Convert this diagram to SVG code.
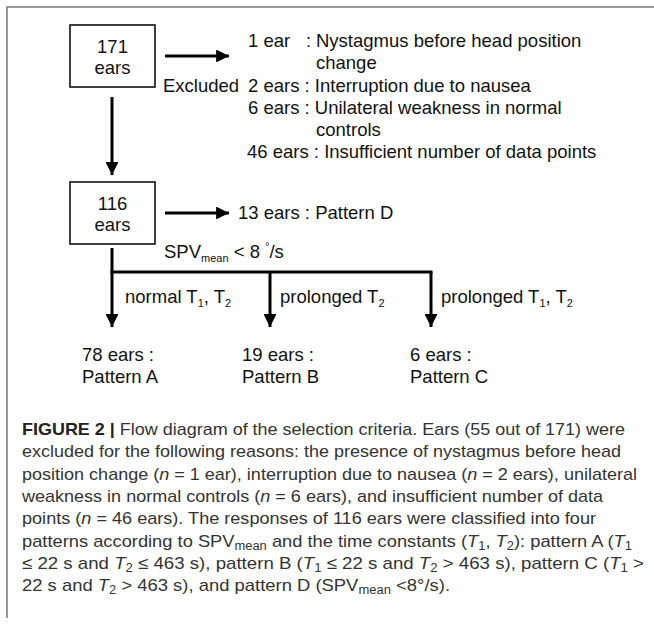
<svg xmlns="http://www.w3.org/2000/svg" width="654" height="625" viewBox="0 0 654 625">
<defs>
<marker id="ah" viewBox="0 0 10 10" refX="10" refY="5" markerWidth="4.3" markerHeight="4.3" markerUnits="strokeWidth" orient="auto">
<path d="M0,0 L10,5 L0,10 Z" fill="#000"/>
</marker>
</defs>
<style>
.t{font-family:"Liberation Sans",Arial,sans-serif;font-size:18.5px;fill:#111}
.c{font-family:"Liberation Sans",Arial,sans-serif;font-size:17px;fill:#333}
.box{fill:#fff;stroke:#111;stroke-width:1.6}
.ln{stroke:#000;stroke-width:3;fill:none}
.sub{font-size:11px}
.cs{font-size:12px}
.frame{stroke:#777;stroke-width:1.5;fill:none}
</style>
<rect width="654" height="625" fill="#fff"/>
<path class="frame" d="M7,618 V7 H654"/>

<g id="connectors">
<line class="ln" x1="165" y1="56" x2="229" y2="56" marker-end="url(#ah)"/>
<line class="ln" x1="112" y1="97" x2="112" y2="175" marker-end="url(#ah)"/>
<line class="ln" x1="165" y1="213" x2="229" y2="213" marker-end="url(#ah)"/>
<line class="ln" x1="112" y1="248" x2="112" y2="327" marker-end="url(#ah)"/>
<line class="ln" x1="110.5" y1="272" x2="432.5" y2="272"/>
<line class="ln" x1="270" y1="272" x2="270" y2="327" marker-end="url(#ah)"/>
<line class="ln" x1="431" y1="272" x2="431" y2="327" marker-end="url(#ah)"/>
</g>

<g id="node-171">
<rect class="box" x="70" y="25" width="85" height="62"/>
<text class="t" x="112.5" y="53" text-anchor="middle">171</text>
<text class="t" x="112.5" y="74" text-anchor="middle">ears</text>
</g>

<g id="excluded">
<text class="t" x="163" y="92">Excluded</text>
<text class="t" x="248" y="47">1 ear</text>
<text class="t" x="306" y="47">:</text>
<text class="t" x="316" y="47">Nystagmus before head position</text>
<text class="t" x="316" y="69">change</text>
<text class="t" x="248" y="92">2 ears : Interruption due to nausea</text>
<text class="t" x="248" y="114">6 ears : Unilateral weakness in normal</text>
<text class="t" x="316" y="136">controls</text>
<text class="t" x="247" y="158">46 ears : Insufficient number of data points</text>
</g>

<g id="node-116">
<rect class="box" x="70" y="182" width="85" height="62"/>
<text class="t" x="112.5" y="210" text-anchor="middle">116</text>
<text class="t" x="112.5" y="231" text-anchor="middle">ears</text>
</g>

<g id="pattern-d">
<text class="t" x="238" y="219">13 ears : Pattern D</text>
<text class="t" x="164" y="258">SPV<tspan class="sub" dy="4">mean</tspan><tspan dy="-4"> &lt; 8 </tspan><tspan class="sub" dy="-8">°</tspan><tspan dy="8">/s</tspan></text>
</g>

<g id="branch-labels">
<text class="t" x="125" y="303" font-size="18">normal T<tspan class="sub" dy="4">1</tspan><tspan dy="-4">, T</tspan><tspan class="sub" dy="4">2</tspan></text>
<text class="t" x="280" y="303">prolonged T<tspan class="sub" dy="4">2</tspan></text>
<text class="t" x="441" y="303">prolonged T<tspan class="sub" dy="4">1</tspan><tspan dy="-4">, T</tspan><tspan class="sub" dy="4">2</tspan></text>
</g>

<g id="pattern-a">
<text class="t" x="82" y="361">78 ears :</text>
<text class="t" x="82" y="383">Pattern A</text>
</g>
<g id="pattern-b">
<text class="t" x="242" y="361">19 ears :</text>
<text class="t" x="242" y="383">Pattern B</text>
</g>
<g id="pattern-c">
<text class="t" x="410" y="361">6 ears :</text>
<text class="t" x="410" y="383">Pattern C</text>
</g>

<g id="caption">
<text class="c" x="22" y="435" textLength="603" lengthAdjust="spacingAndGlyphs"><tspan font-weight="bold" fill="#222">FIGURE 2 |</tspan> Flow diagram of the selection criteria. Ears (55 out of 171) were</text>
<text class="c" x="22" y="457" textLength="599" lengthAdjust="spacingAndGlyphs">excluded for the following reasons: the presence of nystagmus before head</text>
<text class="c" x="22" y="480" textLength="615" lengthAdjust="spacingAndGlyphs">position change (<tspan font-style="italic">n</tspan> = 1 ear), interruption due to nausea (<tspan font-style="italic">n</tspan> = 2 ears), unilateral</text>
<text class="c" x="22" y="502" textLength="581" lengthAdjust="spacingAndGlyphs">weakness in normal controls (<tspan font-style="italic">n</tspan> = 6 ears), and insufficient number of data</text>
<text class="c" x="22" y="524" textLength="574" lengthAdjust="spacingAndGlyphs">points (<tspan font-style="italic">n</tspan> = 46 ears). The responses of 116 ears were classified into four</text>
<text class="c" x="22" y="547" textLength="610" lengthAdjust="spacingAndGlyphs">patterns according to SPV<tspan class="cs" dy="3">mean</tspan><tspan dy="-3"> and the time constants (</tspan><tspan font-style="italic">T</tspan><tspan class="cs" dy="3">1</tspan><tspan dy="-3">, </tspan><tspan font-style="italic">T</tspan><tspan class="cs" dy="3">2</tspan><tspan dy="-3">): pattern A (</tspan><tspan font-style="italic">T</tspan><tspan class="cs" dy="3">1</tspan></text>
<text class="c" x="22" y="569" textLength="622" lengthAdjust="spacingAndGlyphs">≤ 22 s and <tspan font-style="italic">T</tspan><tspan class="cs" dy="3">2</tspan><tspan dy="-3"> ≤ 463 s), pattern B (</tspan><tspan font-style="italic">T</tspan><tspan class="cs" dy="3">1</tspan><tspan dy="-3"> ≤ 22 s and </tspan><tspan font-style="italic">T</tspan><tspan class="cs" dy="3">2</tspan><tspan dy="-3"> &gt; 463 s), pattern C (</tspan><tspan font-style="italic">T</tspan><tspan class="cs" dy="3">1</tspan><tspan dy="-3"> &gt;</tspan></text>
<text class="c" x="22" y="591" textLength="428" lengthAdjust="spacingAndGlyphs">22 s and <tspan font-style="italic">T</tspan><tspan class="cs" dy="3">2</tspan><tspan dy="-3"> &gt; 463 s), and pattern D (SPV</tspan><tspan class="cs" dy="3">mean</tspan><tspan dy="-3"> &lt;8°/s).</tspan></text>
</g>
</svg>
